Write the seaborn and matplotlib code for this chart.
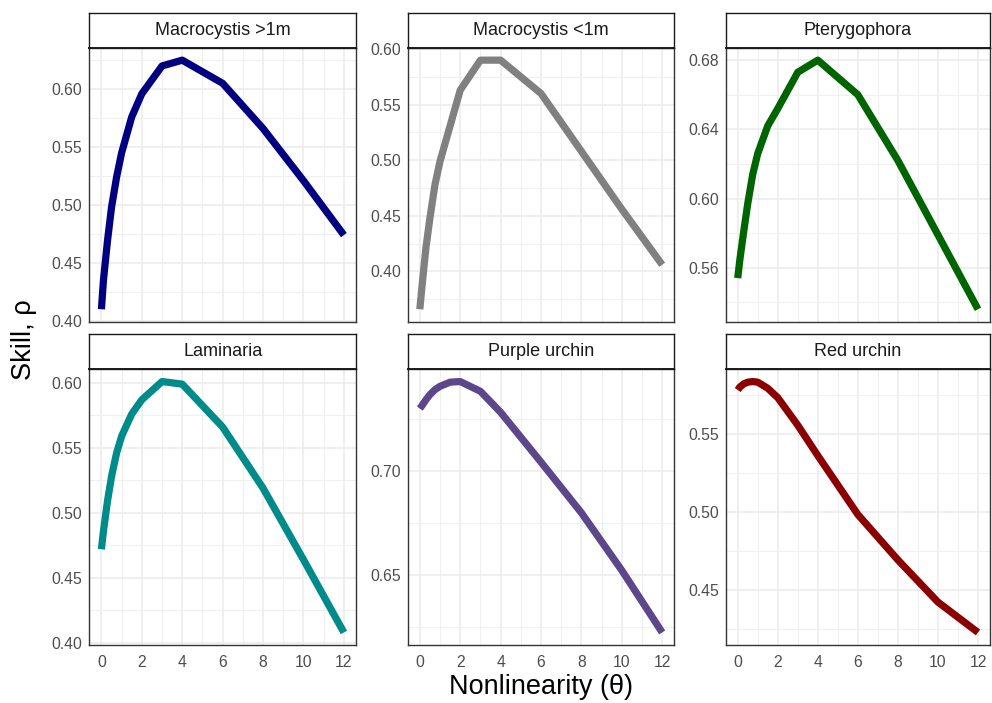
import numpy as np
import pandas as pd
import matplotlib
matplotlib.use("Agg")
import matplotlib.pyplot as plt
from matplotlib.ticker import MultipleLocator, FixedLocator, FormatStrFormatter
import seaborn as sns

# S-map nonlinearity parameter
theta = [0, 0.1, 0.3, 0.5, 0.75, 1, 1.5, 2, 3, 4, 6, 8, 10, 12]

# Forecast skill (rho) for each taxon
macro_large = [0.410, 0.435, 0.469, 0.498, 0.524, 0.545, 0.576, 0.596, 0.620, 0.625, 0.605, 0.566, 0.521, 0.474]
macro_small = [0.366, 0.385, 0.421, 0.448, 0.478, 0.499, 0.531, 0.563, 0.590, 0.590, 0.560, 0.508, 0.456, 0.406]
pterygophora = [0.554, 0.564, 0.581, 0.597, 0.614, 0.626, 0.642, 0.652, 0.673, 0.680, 0.660, 0.622, 0.579, 0.536]
laminaria = [0.472, 0.486, 0.509, 0.528, 0.546, 0.559, 0.576, 0.587, 0.601, 0.599, 0.566, 0.519, 0.464, 0.408]
purple_urchin = [0.7302, 0.7315, 0.7344, 0.7369, 0.7393, 0.7409, 0.7429, 0.7432, 0.7385, 0.7284, 0.7044, 0.6800, 0.6523, 0.6224]
red_urchin = [0.5779, 0.5797, 0.5818, 0.5829, 0.5833, 0.5829, 0.5790, 0.5730, 0.5554, 0.5360, 0.4984, 0.4694, 0.4425, 0.4231]

taxa = ["Macrocystis >1m", "Macrocystis <1m", "Pterygophora",
        "Laminaria", "Purple urchin", "Red urchin"]
skill = [macro_large, macro_small, pterygophora, laminaria, purple_urchin, red_urchin]
colors = ["#000080", "#808080", "#006400", "#008B8B", "#5D478B", "#8B0000"]

# y tick spacing per panel (major, minor)
y_steps = [(0.05, 0.025), (0.05, 0.025), (0.04, 0.02),
           (0.05, 0.025), (0.05, 0.025), (0.05, 0.025)]

df = pd.DataFrame({
    "theta": np.tile(theta, len(taxa)),
    "rho": np.concatenate(skill),
    "taxon": np.repeat(taxa, len(theta)),
})

sns.set_theme(style="white")
plt.rcParams["font.family"] = ["Liberation Sans", "DejaVu Sans"]

W, H = 992, 703
fig = plt.figure(figsize=(W / 100, H / 100), dpi=100)

col_lr = [(89.3, 356.0), (407.7, 674.3), (725.7, 990.0)]
row_tb = [(47.7, 321.7), (369.0, 645.0)]
strip_h = 35.0

for i, (name, col) in enumerate(zip(taxa, colors)):
    r, c = divmod(i, 3)
    l, rr = col_lr[c]
    t, b = row_tb[r]
    ax = fig.add_axes([l / W, 1 - b / H, (rr - l) / W, (b - t) / H])
    sub = df[df["taxon"] == name]
    sns.lineplot(data=sub, x="theta", y="rho", ax=ax, color=col, linewidth=5.2,
                 solid_joinstyle="round", solid_capstyle="butt")

    # ggplot-like 5% expansion
    lo, hi = sub["rho"].min(), sub["rho"].max()
    pad = (hi - lo) * 0.05
    ax.set_ylim(lo - pad, hi + pad)
    ax.set_xlim(-0.6, 12.6)

    maj, mnr = y_steps[i]
    ax.yaxis.set_major_locator(MultipleLocator(maj))
    ax.yaxis.set_minor_locator(MultipleLocator(mnr))
    ax.xaxis.set_major_locator(FixedLocator([0, 2, 4, 6, 8, 10, 12]))
    ax.xaxis.set_minor_locator(FixedLocator([1, 3, 5, 7, 9, 11]))
    ax.yaxis.set_major_formatter(FormatStrFormatter("%.2f"))

    ax.grid(True, which="major", color="#EBEBEB", linewidth=1.1)
    ax.grid(True, which="minor", color="#F0F0F0", linewidth=0.8)
    ax.set_axisbelow(True)
    ax.tick_params(which="both", length=0, labelsize=11.3, colors="#4D4D4D")
    ax.tick_params(axis="y", pad=5)
    ax.tick_params(axis="x", pad=7)
    if r == 0:
        ax.tick_params(axis="x", labelbottom=False)
    for s in ax.spines.values():
        s.set_color("#333333")
        s.set_linewidth(1.0)
    ax.set_xlabel("")
    ax.set_ylabel("")
    ax.set_facecolor("white")

    # facet strip
    sax = fig.add_axes([l / W, 1 - t / H, (rr - l) / W, strip_h / H])
    sax.set_xticks([])
    sax.set_yticks([])
    sax.set_facecolor("white")
    for s in sax.spines.values():
        s.set_color("#1A1A1A")
        s.set_linewidth(1.0)
    sax.spines["bottom"].set_linewidth(1.4)
    sax.text(0.5, 0.5, name, ha="center", va="center", fontsize=13,
             color="#1A1A1A", transform=sax.transAxes)

fig.text(541 / W, 1 - 687 / H, "Nonlinearity (\u03b8)", ha="center", va="center",
         fontsize=19.5, color="black")
fig.text(24 / W, 1 - 340 / H, "Skill, \u03c1", ha="center", va="center",
         rotation=90, fontsize=19.5, color="black")

fig.savefig("out.png", dpi=100, facecolor="white")
